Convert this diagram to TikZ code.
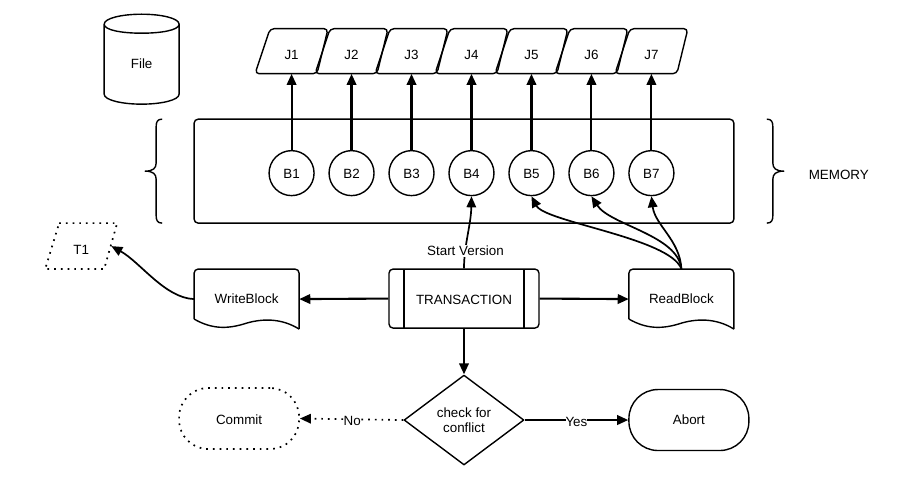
\documentclass[tikz,border=0pt]{standalone}
\usepackage{fontspec}
\setmainfont{Liberation Sans}
\usetikzlibrary{arrows.meta,shapes.geometric}

\tikzset{
	every node/.style={font=\fontsize{13.4}{15.5}\selectfont, inner sep=0pt},
	shapeline/.style={line width=1.4pt, line join=round},
	dotline/.style={line width=1.7pt, dash pattern=on 1.7pt off 5pt},
	flow/.style={line width=2.1pt, -{Triangle[length=11pt,width=9.5pt]}},
	softflow/.style={line width=1.7pt, -{Triangle[length=11pt,width=9.5pt]}},
	jobbox/.style={minimum width=62pt, minimum height=45pt, text height=17.6pt, text depth=0pt},
	blockbox/.style={circle, draw, shapeline, minimum size=45pt, text height=11pt, text depth=0pt},
	docbox/.style={minimum width=105pt, minimum height=60pt},
	endbox/.style={rectangle, rounded corners=29pt, minimum width=120pt, minimum height=61pt},
	edgelabel/.style={fill=white, inner ysep=1pt, yshift=-2pt},
}

% parallelogram round a node
\newcommand{\pgram}[2][shapeline, rounded corners=4pt]{
	\draw[#1] ([shift={(-36.5,22.5)}]#2.center) -- ([shift={(25.5,22.5)}]#2.center)
		-- ([shift={(36.5,-22.5)}]#2.center) -- ([shift={(-21.5,-22.5)}]#2.center) -- cycle;
}
% document shape round a node
\newcommand{\wavedoc}[1]{
	\draw[shapeline, rounded corners=4pt] ([shift={(-52.5,20)}]#1.center) -- ([shift={(-52.5,-30)}]#1.center)
		-- ([shift={(52.5,-30)}]#1.center) -- ([shift={(52.5,30)}]#1.center);
	\draw[shapeline] ([shift={(-52.5,20)}]#1.center)
		.. controls ([shift={(-35,30)}]#1.center) and ([shift={(-20,30)}]#1.center) .. ([shift={(-3,25)}]#1.center)
		.. controls ([shift={(15,19)}]#1.center) and ([shift={(35,19)}]#1.center) .. ([shift={(52.5,30)}]#1.center);
}

\begin{document}
\begin{tikzpicture}[x=1pt, y=-1pt]
	\filldraw[white] (0,0) rectangle (898,477);
	\useasboundingbox (0,0) rectangle (898,477);

	\node (file) at (141.5,64) {File};
	\draw[shapeline] (104,24) -- (104,94) .. controls (104,100) and (122,104) .. (141.5,104)
		.. controls (161,104) and (179,100) .. (179,94) -- (179,24)
		.. controls (179,18) and (161,14) .. (141.5,14) .. controls (122,14) and (104,18) .. (104,24)
		.. controls (104,30) and (122,33) .. (141.5,33) .. controls (161,33) and (179,30) .. (179,24);

	% memory box and its braces
	\node[draw, shapeline, rounded corners=4pt, minimum width=540pt, minimum height=104pt] (memory) at (464,171) {};
	\draw[shapeline] (162,119) .. controls (157,119) and (156,122) .. (156,127) -- (156,163)
		.. controls (156,168) and (153,171) .. (145,171) .. controls (153,171) and (156,174) .. (156,179)
		-- (156,215) .. controls (156,220) and (157,223) .. (162,223);
	\draw[shapeline] (767,119) .. controls (772,119) and (773,122) .. (773,127) -- (773,163)
		.. controls (773,168) and (776,171) .. (784,171) .. controls (776,171) and (773,174) .. (773,179)
		-- (773,215) .. controls (773,220) and (772,223) .. (767,223);
	\node (memlabel) at (839,175) {MEMORY};

	\foreach \i [evaluate=\i as \xpos using 231.5+60*\i] in {1,...,7}{
		\node[jobbox] (J\i) at (\xpos,51) {J\i};
		\pgram{J\i}
		\node[blockbox] (B\i) at (\xpos,173) {B\i};
		\draw[flow] (B\i) -- (J\i.south);
	}

	% transaction row
	\node[draw, shapeline, rounded corners=4pt, minimum width=150pt, minimum height=59pt, text height=11.6pt, text depth=0pt] (trans) at (464,298.5) {TRANSACTION};
	\draw[shapeline] (404,269) -- (404,328);
	\draw[shapeline] (524,269) -- (524,328);

	\node[docbox] (write) at (246.5,299) {WriteBlock};
	\wavedoc{write}
	\node[docbox] (read) at (681.5,299) {ReadBlock};
	\wavedoc{read}

	\node[jobbox, minimum width=60pt, minimum height=46pt] (T1) at (81,246) {T1};
	\draw[dotline] ([shift={(-22,-23)}]T1.center) -- ([shift={(36,-23)}]T1.center)
		-- ([shift={(23,23)}]T1.center) -- ([shift={(-36,23)}]T1.center) -- cycle;

	\draw[flow] (trans.west) -- (write.east);
	\draw[flow] (trans.east) -- (read.west);
	\draw[softflow] (write.west) .. controls (165,298) and (140,262) .. (T1.east);

	\draw[softflow] (trans.north) .. controls (464,245) and (471,225) .. (B4.south);
	\node[fill=white, inner ysep=1pt] (startlabel) at (465.5,250.5) {Start Version};
	\draw[softflow] (read.north) .. controls (670,238) and (545,222) .. (B5.south);
	\draw[softflow] (read.north) .. controls (678,235) and (610,225) .. (B6.south);
	\draw[softflow] (read.north) .. controls (680,240) and (655,225) .. (B7.south);

	% decision row
	\node[diamond, draw, shapeline, aspect=1.33, align=center, minimum width=120pt, minimum height=90pt] (check) at (464,420) {check for\\conflict};
	\node[endbox, draw, dotline, text height=12.6pt, text depth=0pt] (commit) at (239,418.5) {Commit};
	\node[endbox, draw, shapeline] (abort) at (689,420) {Abort};

	\draw[flow] (trans.south) -- (check.north);
	\draw[flow] (check.east) -- (abort.west) node[pos=0.5, edgelabel] (yes) {Yes};
	\draw[softflow, dotline] (check.west) -- (commit.east) node[pos=0.495, edgelabel] (no) {No};
\end{tikzpicture}
\end{document}
